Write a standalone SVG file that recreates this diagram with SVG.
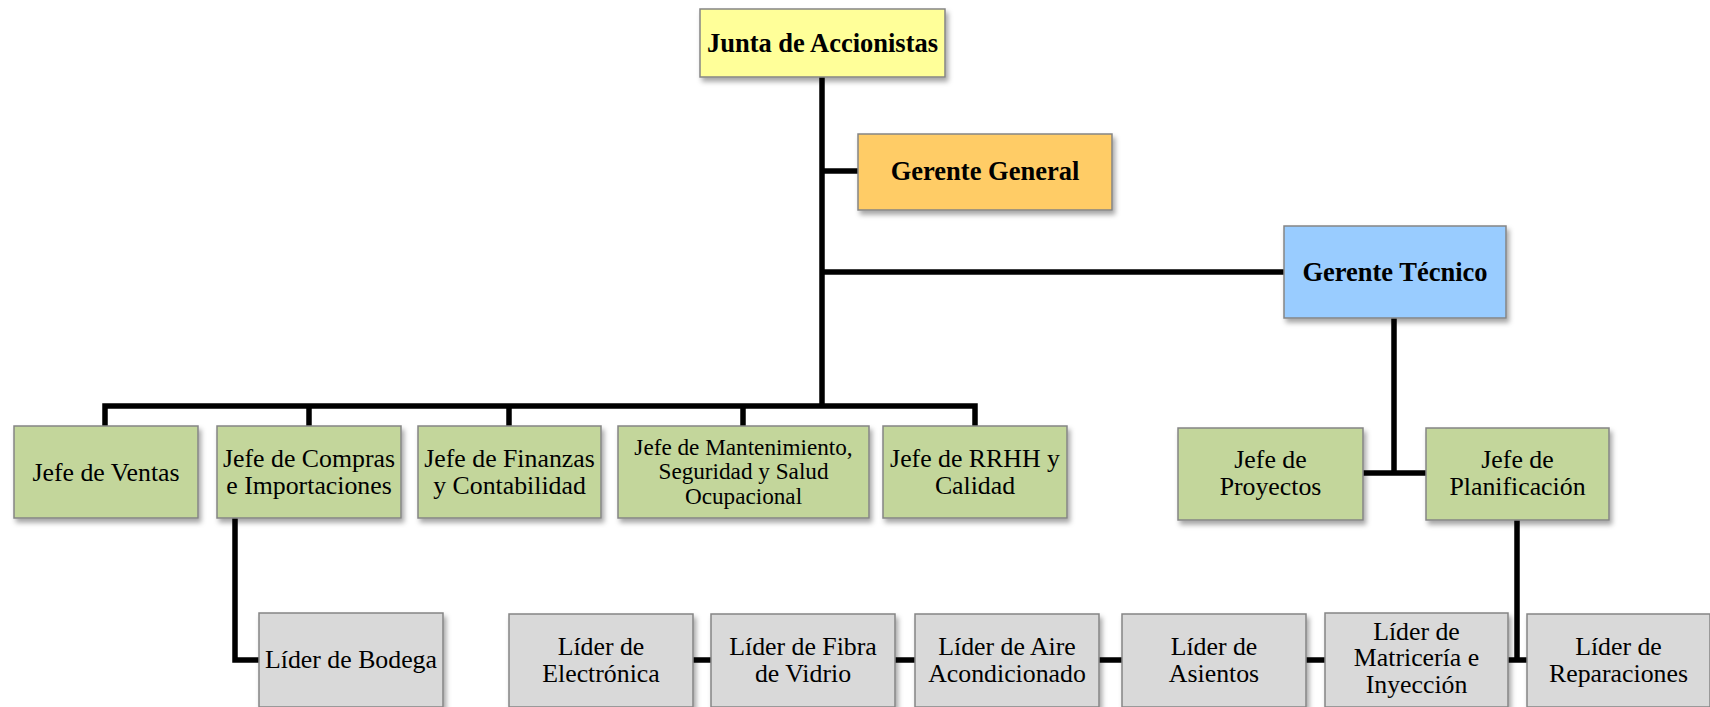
<svg xmlns="http://www.w3.org/2000/svg" width="1710" height="707" viewBox="0 0 1710 707">
<defs>
<filter id="sh" x="-10%" y="-10%" width="125%" height="130%">
<feDropShadow dx="2.5" dy="4" stdDeviation="2.5" flood-color="#000" flood-opacity="0.35"/>
</filter>
</defs>
<style>
.box{stroke:#858585;stroke-width:1.5;filter:url(#sh)}
.y{fill:#FFFF99}
.o{fill:#FFCC66}
.b{fill:#99CCFF}
.g{fill:#C3D69B}
.s{fill:#D9D9D9}
text{font-family:"Liberation Serif","Times New Roman",serif;font-size:25.8px;fill:#000;text-anchor:middle}
.bold{font-weight:bold;font-size:26.5px}
.sm{font-size:23.2px}
.c{fill:none;stroke:#000;stroke-width:5.5;stroke-linejoin:miter;stroke-linecap:butt}
</style>
<rect width="1710" height="707" fill="#fff"/>
<g id="connectors">
<path class="c" d="M822,77 V406"/>
<path class="c" d="M822,171 H858"/>
<path class="c" d="M822,272 H1284"/>
<path class="c" d="M105,426 V406 H975 V426"/>
<path class="c" d="M309,406 V426 M509,406 V426 M743,406 V426"/>
<path class="c" d="M1394,318 V473 M1363,473 H1426"/>
<path class="c" d="M1517,520 V660 M693,660 H1527"/>
<path class="c" d="M235,518 V660 H259"/>
</g>
<g id="junta"><rect class="box y" x="700" y="9" width="245" height="68"/><text class="bold" x="822.5" y="52">Junta de Accionistas</text></g>
<g id="gerente-general"><rect class="box o" x="858" y="134" width="254" height="76"/><text class="bold" x="985" y="180">Gerente General</text></g>
<g id="gerente-tecnico"><rect class="box b" x="1284" y="226" width="222" height="92"/><text class="bold" x="1395" y="281">Gerente Técnico</text></g>
<g id="jefe-ventas"><rect class="box g" x="14" y="426" width="184" height="92"/><text x="106" y="481">Jefe de Ventas</text></g>
<g id="jefe-compras"><rect class="box g" x="217" y="426" width="184" height="92"/><text x="309" y="466.5">Jefe de Compras</text><text x="309" y="493.5">e Importaciones</text></g>
<g id="jefe-finanzas"><rect class="box g" x="418" y="426" width="183" height="92"/><text x="509.5" y="466.5">Jefe de Finanzas</text><text x="509.5" y="493.5">y Contabilidad</text></g>
<g id="jefe-mantenimiento"><rect class="box g" x="618" y="426" width="251" height="92"/><text class="sm" x="743.5" y="454.5">Jefe de Mantenimiento,</text><text class="sm" x="743.5" y="479">Seguridad y Salud</text><text class="sm" x="743.5" y="503.5">Ocupacional</text></g>
<g id="jefe-rrhh"><rect class="box g" x="883" y="426" width="184" height="92"/><text x="975" y="466.5">Jefe de RRHH y</text><text x="975" y="493.5">Calidad</text></g>
<g id="jefe-proyectos"><rect class="box g" x="1178" y="428" width="185" height="92"/><text x="1270.5" y="467.5">Jefe de</text><text x="1270.5" y="494.5">Proyectos</text></g>
<g id="jefe-planificacion"><rect class="box g" x="1426" y="428" width="183" height="92"/><text x="1517.5" y="467.5">Jefe de</text><text x="1517.5" y="494.5">Planificación</text></g>
<g id="lider-bodega"><rect class="box s" x="259" y="613" width="184" height="94"/><text x="351" y="668">Líder de Bodega</text></g>
<g id="lider-electronica"><rect class="box s" x="509" y="614" width="184" height="93"/><text x="601" y="654.5">Líder de</text><text x="601" y="682">Electrónica</text></g>
<g id="lider-fibra"><rect class="box s" x="711" y="614" width="184" height="93"/><text x="803" y="654.5">Líder de Fibra</text><text x="803" y="682">de Vidrio</text></g>
<g id="lider-aire"><rect class="box s" x="915" y="614" width="184" height="93"/><text x="1007" y="654.5">Líder de Aire</text><text x="1007" y="682">Acondicionado</text></g>
<g id="lider-asientos"><rect class="box s" x="1122" y="614" width="184" height="93"/><text x="1214" y="654.5">Líder de</text><text x="1214" y="682">Asientos</text></g>
<g id="lider-matriceria"><rect class="box s" x="1325" y="613" width="183" height="94"/><text x="1416.5" y="639.5">Líder de</text><text x="1416.5" y="666">Matricería e</text><text x="1416.5" y="692.5">Inyección</text></g>
<g id="lider-reparaciones"><rect class="box s" x="1527" y="614" width="183" height="93"/><text x="1618.5" y="654.5">Líder de</text><text x="1618.5" y="682">Reparaciones</text></g>
</svg>
